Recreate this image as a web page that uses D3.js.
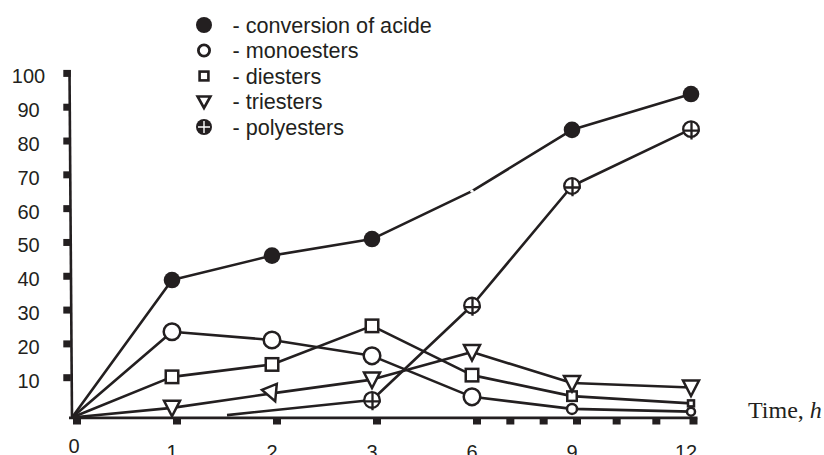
<!DOCTYPE html>
<html>
<head>
<meta charset="utf-8">
<script src="https://cdn.jsdelivr.net/npm/d3@7.9.0/dist/d3.min.js"></script>
<style>
  body { margin: 0; background: #fff; }
  svg { display: block; }
  text { font-family: "Liberation Sans", Arial, sans-serif; fill: #231f20; }
</style>
</head>
<body>
<svg id="chart" width="824" height="455"></svg>
<script>
const times = [0, 1, 2, 3, 6, 9, 12];
const minorTimes = [7, 8, 10, 11];
const yTicks = [10, 20, 30, 40, 50, 60, 70, 80, 90, 100];

const conversion = [0, 39.9, 47, 51.8, 65.7, 83.5, 93.9];
const monoesters = [0, 24.9, 22.5, 17.9, 6.0, 2.5, 1.7];
const diesters = [0, 11.8, 15.4, 26.6, 12.3, 6.2, 4.1];
const triesters = [0, 2.8, 7, 11, 19, 10, 8.7];
// polyesters line starts between 1 and 2 h (no marker there)
const polyTimes = [1.55, 3, 6, 9, 12];
const polyesters = [0.7, 5.1, 32.5, 67.2, 83.7];

const legendLabels = [
  "- conversion of acide",
  "- monoesters",
  "- diesters",
  "- triesters",
  "- polyesters"
];

const ink = "#231f20";
const svg = d3.select("#chart");

// hours are drawn on an index axis, last step a bit wider
const xi = d3.scaleLinear().domain([0, 5, 6]).range([72, 572, 691]);
const x = d3.scaleLinear().domain(times).range(times.map((t, i) => xi(i)));
const y = d3.scaleLinear().domain([0, 100]).range([417.5, 73]);
const yTick = d3.scaleLinear().domain([10, 100]).range([377.7, 73.4]);

// axes
svg.append("path")
  .attr("d", `M69.5,70 L72,418.5`)
  .attr("stroke", ink).attr("stroke-width", 2.6).attr("fill", "none");

svg.append("line")
  .attr("x1", 69).attr("x2", 697.5)
  .attr("y1", 417.8).attr("y2", 417.8)
  .attr("stroke", ink).attr("stroke-width", 2.8);

svg.selectAll(".ytick")
  .data(yTicks)
  .join("rect")
  .attr("class", "ytick")
  .attr("x", 63.3)
  .attr("y", (d) => yTick(d) - 3.5)
  .attr("width", 7.5)
  .attr("height", 7)
  .attr("fill", ink);

svg.selectAll(".ylabel")
  .data(yTicks)
  .join("text")
  .attr("class", "ylabel")
  .attr("x", 28.5)
  .attr("y", (d) => yTick(d) + 10)
  .attr("text-anchor", "middle")
  .attr("font-size", 20)
  .text((d) => d);

svg.selectAll(".xtick")
  .data(times.concat(minorTimes))
  .join("rect")
  .attr("class", "xtick")
  .attr("x", (d) => x(d) + (d === 12 ? 2.5 : 5) - 4)
  .attr("y", 418.5)
  .attr("width", 8)
  .attr("height", 6)
  .attr("fill", ink);

// the first label sits higher, the rest run off the bottom edge as in the figure
svg.selectAll(".xlabel")
  .data(times)
  .join("text")
  .attr("class", "xlabel")
  .attr("x", (d) => x(d) + (d === 0 ? 2 : d === 12 ? -5 : 0))
  .attr("y", (d) => (d === 0 ? 452.5 : 459))
  .attr("text-anchor", "middle")
  .attr("font-size", 20)
  .text((d) => d);

const axisTitle = svg.append("text")
  .attr("x", 748)
  .attr("y", 418)
  .attr("font-size", 24)
  .style("font-family", "'Liberation Serif', 'Times New Roman', serif");
axisTitle.append("tspan").text("Time, ");
axisTitle.append("tspan").attr("font-style", "italic").text("h");

// lines
const line = d3.line().x((d) => x(d[0])).y((d) => y(d[1]));
const pairs = (ts, vs) => ts.map((t, i) => [t, vs[i]]);

const series = [
  { key: "conv", pts: pairs(times, conversion) },
  { key: "mono", pts: pairs(times, monoesters) },
  { key: "di", pts: pairs(times, diesters) },
  { key: "tri", pts: pairs(times, triesters) },
  { key: "poly", pts: pairs(polyTimes, polyesters) }
];

svg.append("g")
  .selectAll("path")
  .data(series)
  .join("path")
  .attr("d", (s) => line(s.pts))
  .attr("fill", "none")
  .attr("stroke", ink)
  .attr("stroke-width", 2.6)
  .attr("stroke-linejoin", "round");

// marker drawing helpers
function drawFilled(g, r) {
  g.append("circle").attr("r", r).attr("fill", ink);
}
function drawOpen(g, r, sw) {
  g.append("circle").attr("r", r).attr("fill", "#fff")
    .attr("stroke", ink).attr("stroke-width", sw);
}
function drawSquare(g, s, sw) {
  g.append("rect").attr("x", -s / 2).attr("y", -s / 2)
    .attr("width", s).attr("height", s)
    .attr("fill", "#fff").attr("stroke", ink).attr("stroke-width", sw);
}
function drawTriangle(g, w, top, tip, sw) {
  g.append("path")
    .attr("d", `M${-w},${-top} L${w},${-top} L0,${tip} Z`)
    .attr("fill", "#fff").attr("stroke", ink).attr("stroke-width", sw)
    .attr("stroke-linejoin", "miter");
}
function drawPoly(g, r, sw) {
  g.append("circle").attr("r", r).attr("fill", "#fff")
    .attr("stroke", ink).attr("stroke-width", sw);
  g.append("path")
    .attr("d", `M0.5,${-r} L0.5,${r + 2.5} M${-r},1.5 L${r + 1},1.5`)
    .attr("stroke", ink).attr("stroke-width", sw);
}

const markers = svg.append("g");
function place(t, v) {
  return markers.append("g").attr("transform", `translate(${x(t)},${y(v)})`);
}

times.forEach((t, i) => {
  if (i === 0) return;
  if (t === 6) {
    // no marker on the acid curve here, only a break in the line
    place(t, conversion[i]).append("circle").attr("r", 1.7).attr("fill", "#fff");
  } else {
    drawFilled(place(t, conversion[i]), 8.3);
  }
});

const monoR = (t) => (t === 12 ? 4 : t === 9 ? 5 : 8.3);
times.forEach((t, i) => {
  if (i === 0) return;
  drawOpen(place(t, monoesters[i]), monoR(t), 2.5);
});

const diSide = (t) => (t === 12 ? 6 : t === 9 ? 9.5 : 12.5);
times.forEach((t, i) => {
  if (i === 0) return;
  drawSquare(place(t, diesters[i]), diSide(t), 2.5);
});

times.forEach((t, i) => {
  if (i === 0) return;
  const g = place(t, triesters[i]);
  const inner = g.append("g").attr("transform", t === 2 ? "rotate(-22)" : null);
  drawTriangle(inner, 8, 7, 8.5, 2.5);
});

polyTimes.forEach((t, i) => {
  if (i === 0) return;
  drawPoly(place(t, polyesters[i]), 7.8, 2.3);
});

// legend
const legend = svg.append("g");
legendLabels.forEach((label, i) => {
  const cy = 25 + i * 25.5;
  const g = legend.append("g").attr("transform", `translate(204,${cy})`);
  if (i === 0) drawFilled(g, 8);
  if (i === 1) drawOpen(g, 5.6, 2.8);
  if (i === 2) drawSquare(g, 8.8, 2.6);
  if (i === 3) drawTriangle(g, 6.4, 5, 6.5, 2.6);
  if (i === 4) {
    g.append("circle").attr("r", 8).attr("fill", ink);
    g.append("path").attr("d", "M0,-6 L0,6 M-6,0 L6,0")
      .attr("stroke", "#fff").attr("stroke-width", 1.4);
  }
  legend.append("text")
    .attr("x", 232.5)
    .attr("y", cy + 7.5)
    .attr("font-size", 21.6)
    .text(label);
});
</script>
</body>
</html>
